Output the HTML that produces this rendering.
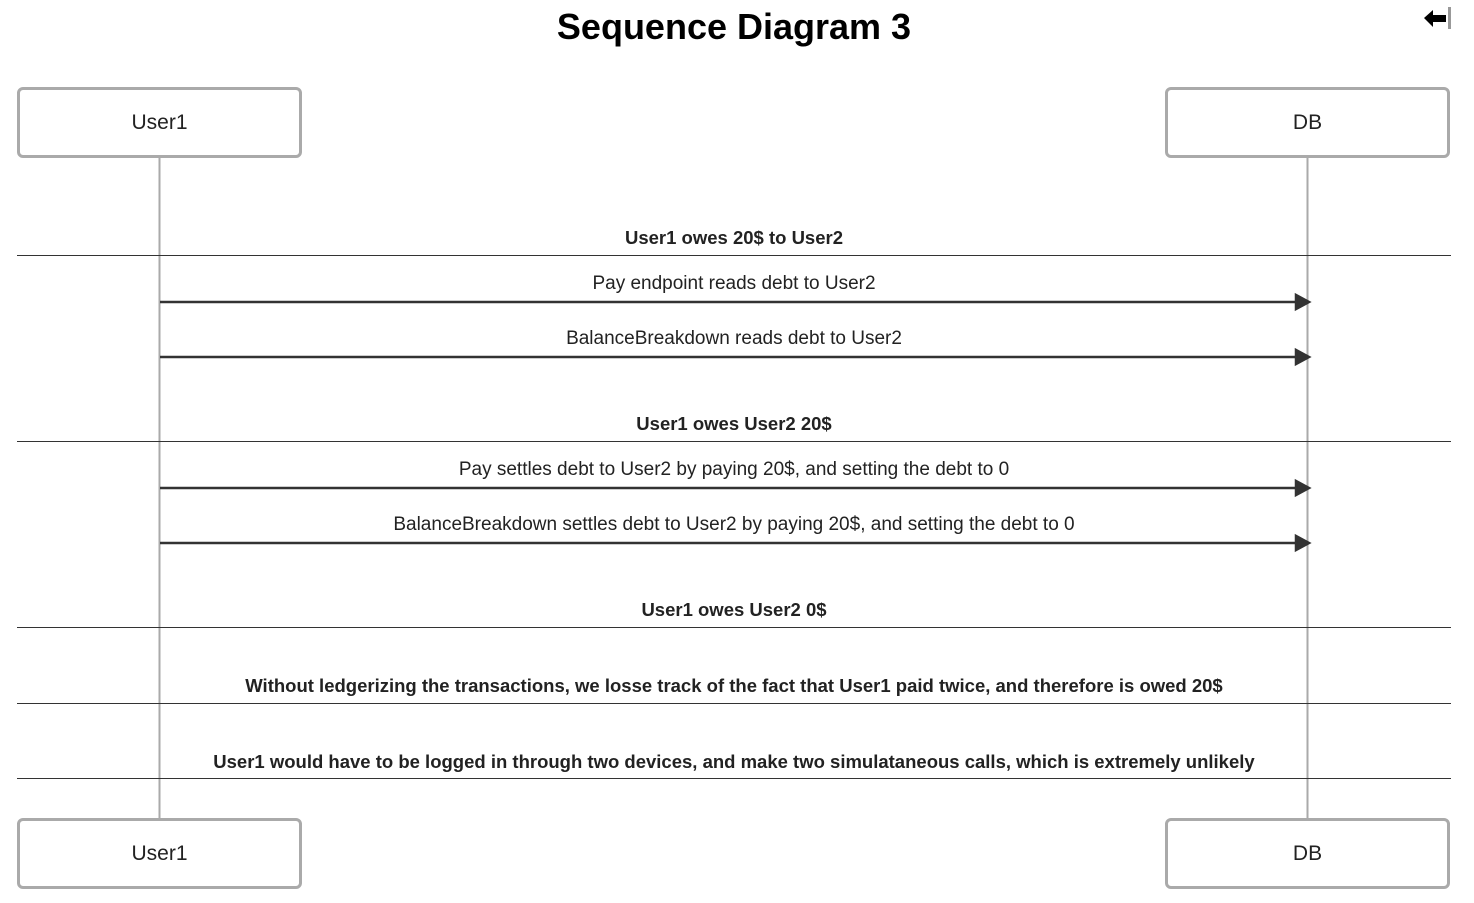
<!DOCTYPE html>
<html><head><meta charset="utf-8"><style>
body{margin:0;width:1474px;height:903px;background:#fff;font-family:"Liberation Sans",sans-serif;position:relative;overflow:hidden}
.box{position:absolute;width:285px;height:71px;border:3px solid #aaa;border-radius:6px;background:#fff;box-sizing:border-box;display:flex;align-items:center;justify-content:center;font-size:21px;color:#222}
.t{position:absolute;left:0;width:1468px;text-align:center;font-size:19px;color:#222}
.b{font-weight:bold;font-size:18.5px}
</style></head><body>
<div style="position:absolute;left:0;width:1468px;top:6px;text-align:center;font-size:36px;font-weight:bold;color:#000">Sequence Diagram 3</div>
<svg width="1474" height="903" style="position:absolute;left:0;top:0">
<line x1="159.5" y1="157" x2="159.5" y2="820" stroke="#aaa" stroke-width="2"/>
<line x1="1307.5" y1="157" x2="1307.5" y2="820" stroke="#aaa" stroke-width="2"/>
<g stroke="#333" stroke-width="1">
<line x1="17" y1="255.5" x2="1451" y2="255.5"/>
<line x1="17" y1="441.5" x2="1451" y2="441.5"/>
<line x1="17" y1="627.5" x2="1451" y2="627.5"/>
<line x1="17" y1="703.5" x2="1451" y2="703.5"/>
<line x1="17" y1="778.5" x2="1451" y2="778.5"/>
</g>
<g stroke="#333" stroke-width="2.5" fill="#333">
<line x1="160" y1="302" x2="1298" y2="302"/><path d="M1296 295 L1309 302 L1296 309Z"/>
<line x1="160" y1="357" x2="1298" y2="357"/><path d="M1296 350 L1309 357 L1296 364Z"/>
<line x1="160" y1="488" x2="1298" y2="488"/><path d="M1296 481 L1309 488 L1296 495Z"/>
<line x1="160" y1="543" x2="1298" y2="543"/><path d="M1296 536 L1309 543 L1296 550Z"/>
</g>
<path d="M1424 18 L1433 10 L1433 15 L1446 15 L1446 22 L1433 22 L1433 27Z" fill="#000"/>
<rect x="1448" y="7" width="3" height="22" fill="#999"/>
</svg>
<div class="box" style="left:17px;top:87px">User1</div>
<div class="box" style="left:1165px;top:87px">DB</div>
<div class="box" style="left:17px;top:818px">User1</div>
<div class="box" style="left:1165px;top:818px">DB</div>
<div class="t b" style="top:227px">User1 owes 20$ to User2</div>
<div class="t" style="top:273px">Pay endpoint reads debt to User2</div>
<div class="t" style="top:328px">BalanceBreakdown reads debt to User2</div>
<div class="t b" style="top:413px">User1 owes User2 20$</div>
<div class="t" style="top:459px">Pay settles debt to User2 by paying 20$, and setting the debt to 0</div>
<div class="t" style="top:514px">BalanceBreakdown settles debt to User2 by paying 20$, and setting the debt to 0</div>
<div class="t b" style="top:599px">User1 owes User2 0$</div>
<div class="t b" style="top:675px">Without ledgerizing the transactions, we losse track of the fact that User1 paid twice, and therefore is owed 20$</div>
<div class="t b" style="top:751px">User1 would have to be logged in through two devices, and make two simulataneous calls, which is extremely unlikely</div>
</body></html>
